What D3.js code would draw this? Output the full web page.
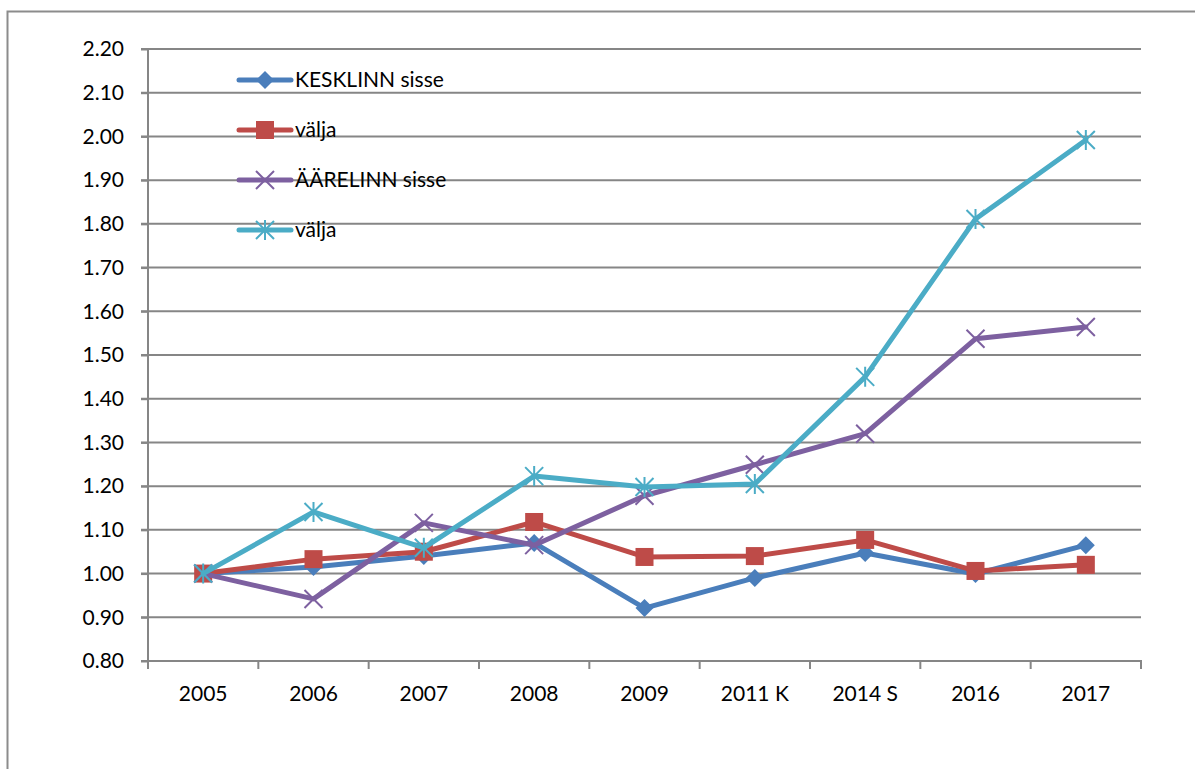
<!DOCTYPE html>
<html><head><meta charset="utf-8">
<script src="https://cdn.jsdelivr.net/npm/d3@7"></script>
<style>body{margin:0;background:#fff}svg{display:block}text{font-family:Lato,"Open Sans",sans-serif;fill:#000}</style>
</head><body><svg id="c" width="1195" height="769"></svg>
<script>
const categories = ["2005","2006","2007","2008","2009","2011 K","2014 S","2016","2017"];
const keskSisse = [1.00,1.015,1.04,1.07,0.921,0.99,1.047,0.999,1.065];
const keskValja = [1.00,1.033,1.05,1.118,1.038,1.04,1.077,1.006,1.02];
const aareSisse = [1.00,0.942,1.116,1.065,1.178,1.249,1.32,1.537,1.564];
const aareValja = [1.00,1.141,1.059,1.223,1.198,1.205,1.45,1.811,1.992];
const yTicks = [0.80,0.90,1.00,1.10,1.20,1.30,1.40,1.50,1.60,1.70,1.80,1.90,2.00,2.10,2.20];
const seriesNames = ["KESKLINN sisse","välja","ÄÄRELINN sisse","välja"];

const series = [
 {name:seriesNames[0], values:keskSisse, color:"#4A7EBB", marker:"diamond"},
 {name:seriesNames[1], values:keskValja, color:"#BE4B48", marker:"square"},
 {name:seriesNames[2], values:aareSisse, color:"#7D60A0", marker:"x"},
 {name:seriesNames[3], values:aareValja, color:"#4BACC6", marker:"star"}
];
const FS = 21;

const svg = d3.select("#c");
// outer frame
svg.append("path").attr("d","M7.5,769 V11.5 H1195").attr("fill","none").attr("stroke","#8c8c8c").attr("stroke-width",2);

const L=148, R=1141, T=49, B=661;
const x = d3.scaleBand().domain(categories).range([L,R]);
const y = d3.scaleLinear().domain([0.8,2.2]).range([B,T]);

// gridlines
svg.append("g").selectAll("line").data(yTicks).join("line")
 .attr("x1",L-7).attr("x2",R).attr("y1",d=>y(d)).attr("y2",d=>y(d))
 .attr("stroke","#868686").attr("stroke-width",2);

// y axis
const ya = svg.append("g").attr("transform",`translate(${L},0)`)
 .call(d3.axisLeft(y).tickValues(yTicks).tickFormat(d3.format(".2f")).tickSize(7));
ya.select(".domain").attr("stroke","#868686").attr("stroke-width",2).attr("d",`M-7,${T}H0V${B}H-7`);
ya.selectAll(".tick line").attr("stroke","#868686").attr("stroke-width",2);
ya.selectAll(".tick text").attr("x",-24).attr("font-size",FS).attr("font-family","Lato, 'Open Sans', sans-serif");

// x axis
const xa = svg.append("g").attr("transform",`translate(0,${B})`)
 .call(d3.axisBottom(x).tickSize(0));
xa.select(".domain").remove();
xa.selectAll(".tick text").attr("y",25).attr("font-size",FS).attr("font-family","Lato, 'Open Sans', sans-serif");
const bounds = categories.map(c=>x(c)).concat([R]);
svg.append("g").selectAll("line").data(bounds).join("line")
 .attr("x1",d=>d).attr("x2",d=>d).attr("y1",B).attr("y2",B+8)
 .attr("stroke","#868686").attr("stroke-width",2);
svg.append("line").attr("x1",L-7).attr("x2",R+1).attr("y1",B).attr("y2",B).attr("stroke","#868686").attr("stroke-width",2);

function drawMarker(g, type, color, cx, cy){
  if(type==="diamond"){
    g.append("path").attr("d",`M${cx},${cy-9}L${cx+9},${cy}L${cx},${cy+9}L${cx-9},${cy}Z`).attr("fill",color);
  } else if(type==="square"){
    g.append("rect").attr("x",cx-9).attr("y",cy-9).attr("width",18).attr("height",18).attr("fill",color);
  } else if(type==="x"){
    g.append("path").attr("d",`M${cx-9},${cy-9}L${cx+9},${cy+9}M${cx-9},${cy+9}L${cx+9},${cy-9}`).attr("stroke",color).attr("stroke-width",2);
  } else {
    g.append("path").attr("d",`M${cx-9},${cy-9}L${cx+9},${cy+9}M${cx-9},${cy+9}L${cx+9},${cy-9}M${cx},${cy-10}V${cy+10}`).attr("stroke",color).attr("stroke-width",2);
  }
}

const line = d3.line().x((d,i)=>x(categories[i])+x.bandwidth()/2).y(d=>y(d));
series.forEach(s=>{
  const g = svg.append("g");
  g.append("path").attr("d",line(s.values)).attr("fill","none").attr("stroke",s.color)
   .attr("stroke-width",5).attr("stroke-linejoin","round").attr("stroke-linecap","round");
  s.values.forEach((v,i)=>drawMarker(g,s.marker,s.color,x(categories[i])+x.bandwidth()/2,y(v)));
});

// legend
const legY = [80,130,180,230];
series.forEach((s,i)=>{
  const g = svg.append("g");
  g.append("line").attr("x1",239).attr("x2",291).attr("y1",legY[i]).attr("y2",legY[i])
   .attr("stroke",s.color).attr("stroke-width",5).attr("stroke-linecap","round");
  drawMarker(g,s.marker,s.color,265,legY[i]);
  g.append("text").attr("x",295).attr("y",legY[i]).attr("dy","0.35em").attr("font-size",FS).text(s.name);
});
</script></body></html>
